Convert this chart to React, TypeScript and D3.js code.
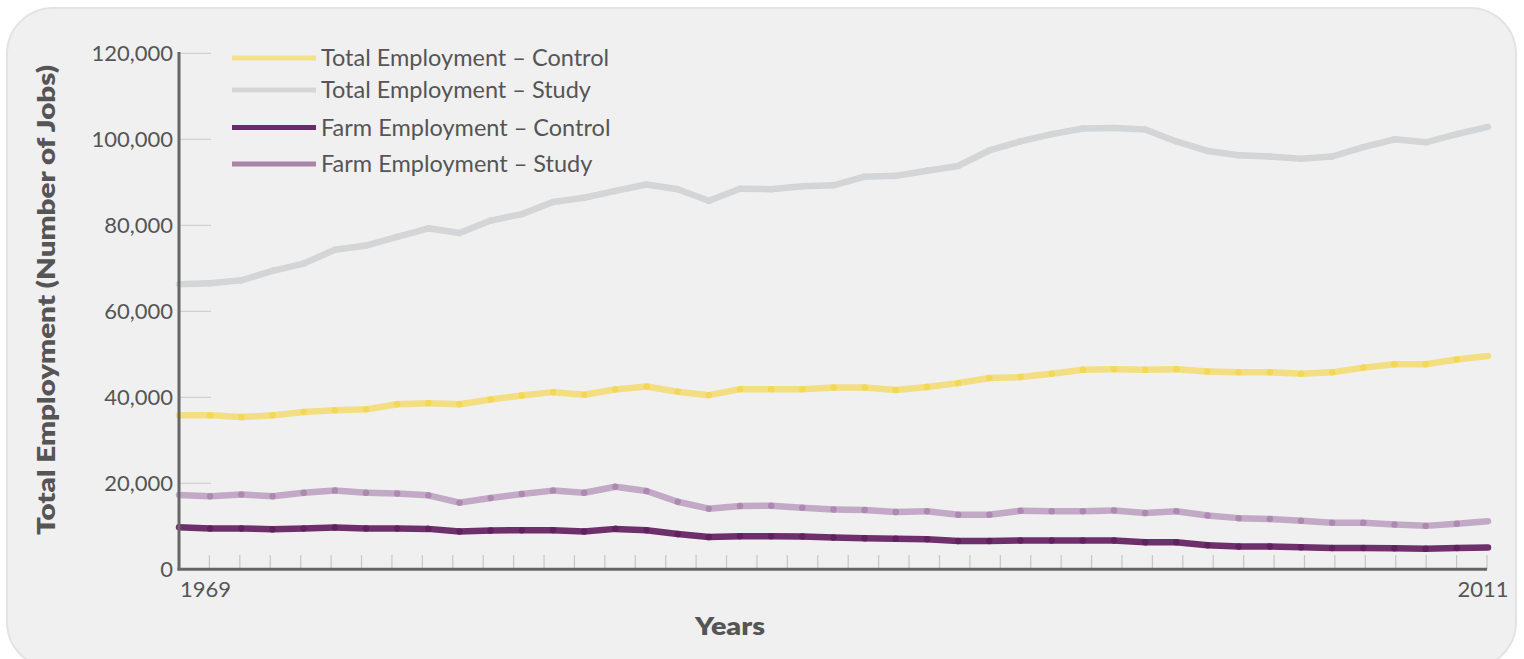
import React from "react";
import * as d3 from "d3";

const years: number[] = [
  1969, 1970, 1971, 1972, 1973, 1974, 1975, 1976, 1977, 1978, 1979, 1980, 1981, 1982,
  1983, 1984, 1985, 1986, 1987, 1988, 1989, 1990, 1991, 1992, 1993, 1994, 1995, 1996,
  1997, 1998, 1999, 2000, 2001, 2002, 2003, 2004, 2005, 2006, 2007, 2008, 2009, 2010, 2011,
];

const totalControl: number[] = [
  35800, 35800, 35400, 35800, 36600, 37000, 37200, 38400, 38600, 38400, 39500, 40400,
  41200, 40600, 41800, 42500, 41300, 40500, 41900, 41900, 41900, 42300, 42300, 41700,
  42400, 43300, 44500, 44700, 45500, 46400, 46500, 46400, 46500, 46000, 45800, 45800,
  45500, 45800, 46900, 47700, 47700, 48800, 49600,
];

const totalStudy: number[] = [
  66300, 66500, 67200, 69400, 71100, 74300, 75300, 77300, 79300, 78200, 81100, 82600,
  85400, 86400, 88000, 89500, 88400, 85700, 88500, 88400, 89100, 89300, 91300, 91500,
  92700, 93800, 97400, 99500, 101200, 102500, 102600, 102300, 99500, 97300, 96300, 96000,
  95500, 96000, 98200, 100000, 99300, 101200, 102900,
];

const farmControl: number[] = [
  9800, 9500, 9500, 9300, 9500, 9700, 9500, 9500, 9400, 8800, 9000, 9100, 9100, 8800,
  9400, 9100, 8200, 7500, 7700, 7700, 7600, 7400, 7200, 7100, 7000, 6600, 6600, 6700,
  6700, 6700, 6700, 6300, 6300, 5600, 5300, 5300, 5100, 4950, 4950, 4900, 4800, 4950, 5050,
];

const farmStudy: number[] = [
  17300, 17000, 17400, 17000, 17800, 18300, 17800, 17600, 17200, 15500, 16600, 17500,
  18300, 17800, 19200, 18200, 15700, 14100, 14700, 14800, 14300, 13900, 13800, 13300,
  13500, 12700, 12700, 13600, 13500, 13500, 13700, 13100, 13500, 12500, 11900, 11700,
  11300, 10800, 10800, 10400, 10100, 10600, 11200,
];

const yTicks: number[] = [0, 20000, 40000, 60000, 80000, 100000, 120000];
const xTickLabels: { index: number; label: string }[] = [
  { index: 1, label: "1969" },
  { index: 43, label: "2011" },
];

const seriesNames: string[] = [
  "Total Employment – Control",
  "Total Employment – Study",
  "Farm Employment – Control",
  "Farm Employment – Study",
];

const FONT = "Lato, 'Open Sans', sans-serif";
const TEXT = "#555555";

export default function App() {
  const left = 179;
  const right = 1488;
  const top = 53.3;
  const bottom = 569.3;

  const x = d3.scaleLinear().domain([years[0], years[years.length - 1]]).range([left, right]);
  const y = d3.scaleLinear().domain([0, 120000]).range([bottom, top]);
  const tickScale = d3.scaleLinear().domain([0, 43]).range([left, 1487]);
  const tickIdx = d3.range(1, 44);

  const series = [
    { name: seriesNames[1], values: totalStudy, color: "#d4d5d6", opacity: 1, legend: "#d6d6d7" },
    { name: seriesNames[0], values: totalControl, color: "#f5d332", opacity: 0.58, legend: "#f2e08a" },
    { name: seriesNames[3], values: farmStudy, color: "#9c70a3", opacity: 0.55, legend: "#a884a6" },
    { name: seriesNames[2], values: farmControl, color: "#62205f", opacity: 0.92, legend: "#682a68" },
  ];

  const legendOrder = [1, 0, 3, 2];
  const legendY = [58, 90, 127.5, 164];

  return (
    <svg
      width={1524}
      height={659}
      style={{ position: "absolute", left: 0, top: 0, background: "#ffffff" }}
      fontFamily={FONT}
    >
      <rect x={7} y={8} width={1509} height={660} rx={46} fill="#f0f0f0" stroke="#e3e3e3" strokeWidth={2} />

      {yTicks.filter((t) => t > 0).map((t) => (
        <line key={"g" + t} x1={left} x2={211} y1={y(t)} y2={y(t)} stroke="#c9c9c9" strokeWidth={1} />
      ))}
      {yTicks.map((t) => (
        <text
          key={"yl" + t}
          x={173}
          y={y(t)}
          dy="0.36em"
          textAnchor="end"
          fontSize={22}
          fill={TEXT}
        >
          {d3.format(",")(t)}
        </text>
      ))}

      {tickIdx.map((k) => (
        <line
          key={"xt" + k}
          x1={tickScale(k)}
          x2={tickScale(k)}
          y1={555}
          y2={bottom}
          stroke="#c6c6c6"
          strokeWidth={1.2}
        />
      ))}
      {xTickLabels.map((d) => (
        <text key={"xl" + d.label} x={tickScale(d.index) - 4} y={597} textAnchor="middle" fontSize={22} fill={TEXT}>
          {d.label}
        </text>
      ))}

      {series.map((s) => (
        <g key={s.name} stroke={s.color} strokeOpacity={s.opacity} strokeWidth={6.5} strokeLinecap="round">
          {s.values.slice(1).map((v, i) => (
            <line
              key={i}
              x1={x(years[i])}
              y1={y(s.values[i])}
              x2={x(years[i + 1])}
              y2={y(v)}
            />
          ))}
        </g>
      ))}

      <line x1={left} x2={left} y1={52} y2={bottom + 1} stroke="#666666" strokeWidth={3} />
      <line x1={left - 1.5} x2={1487} y1={bottom} y2={bottom} stroke="#666666" strokeWidth={3} />

      {legendOrder.map((si, row) => {
        const s = series[si];
        return (
          <g key={"lg" + row}>
            <line x1={232} x2={316} y1={legendY[row]} y2={legendY[row]} stroke={s.legend} strokeWidth={5} />
            <text x={321} y={legendY[row]} dy="0.36em" fontSize={23.5} fill={TEXT}>
              {s.name}
            </text>
          </g>
        );
      })}

      <text
        transform="translate(55,300) rotate(-90)"
        textAnchor="middle"
        fontSize={25}
        fontWeight={800}
        fill={TEXT}
        textLength={470}
        lengthAdjust="spacingAndGlyphs"
      >
        Total Employment (Number of Jobs)
      </text>
      <text
        x={730}
        y={635}
        textAnchor="middle"
        fontSize={25}
        fontWeight={800}
        fill={TEXT}
        textLength={70}
        lengthAdjust="spacingAndGlyphs"
      >
        Years
      </text>
    </svg>
  );
}
